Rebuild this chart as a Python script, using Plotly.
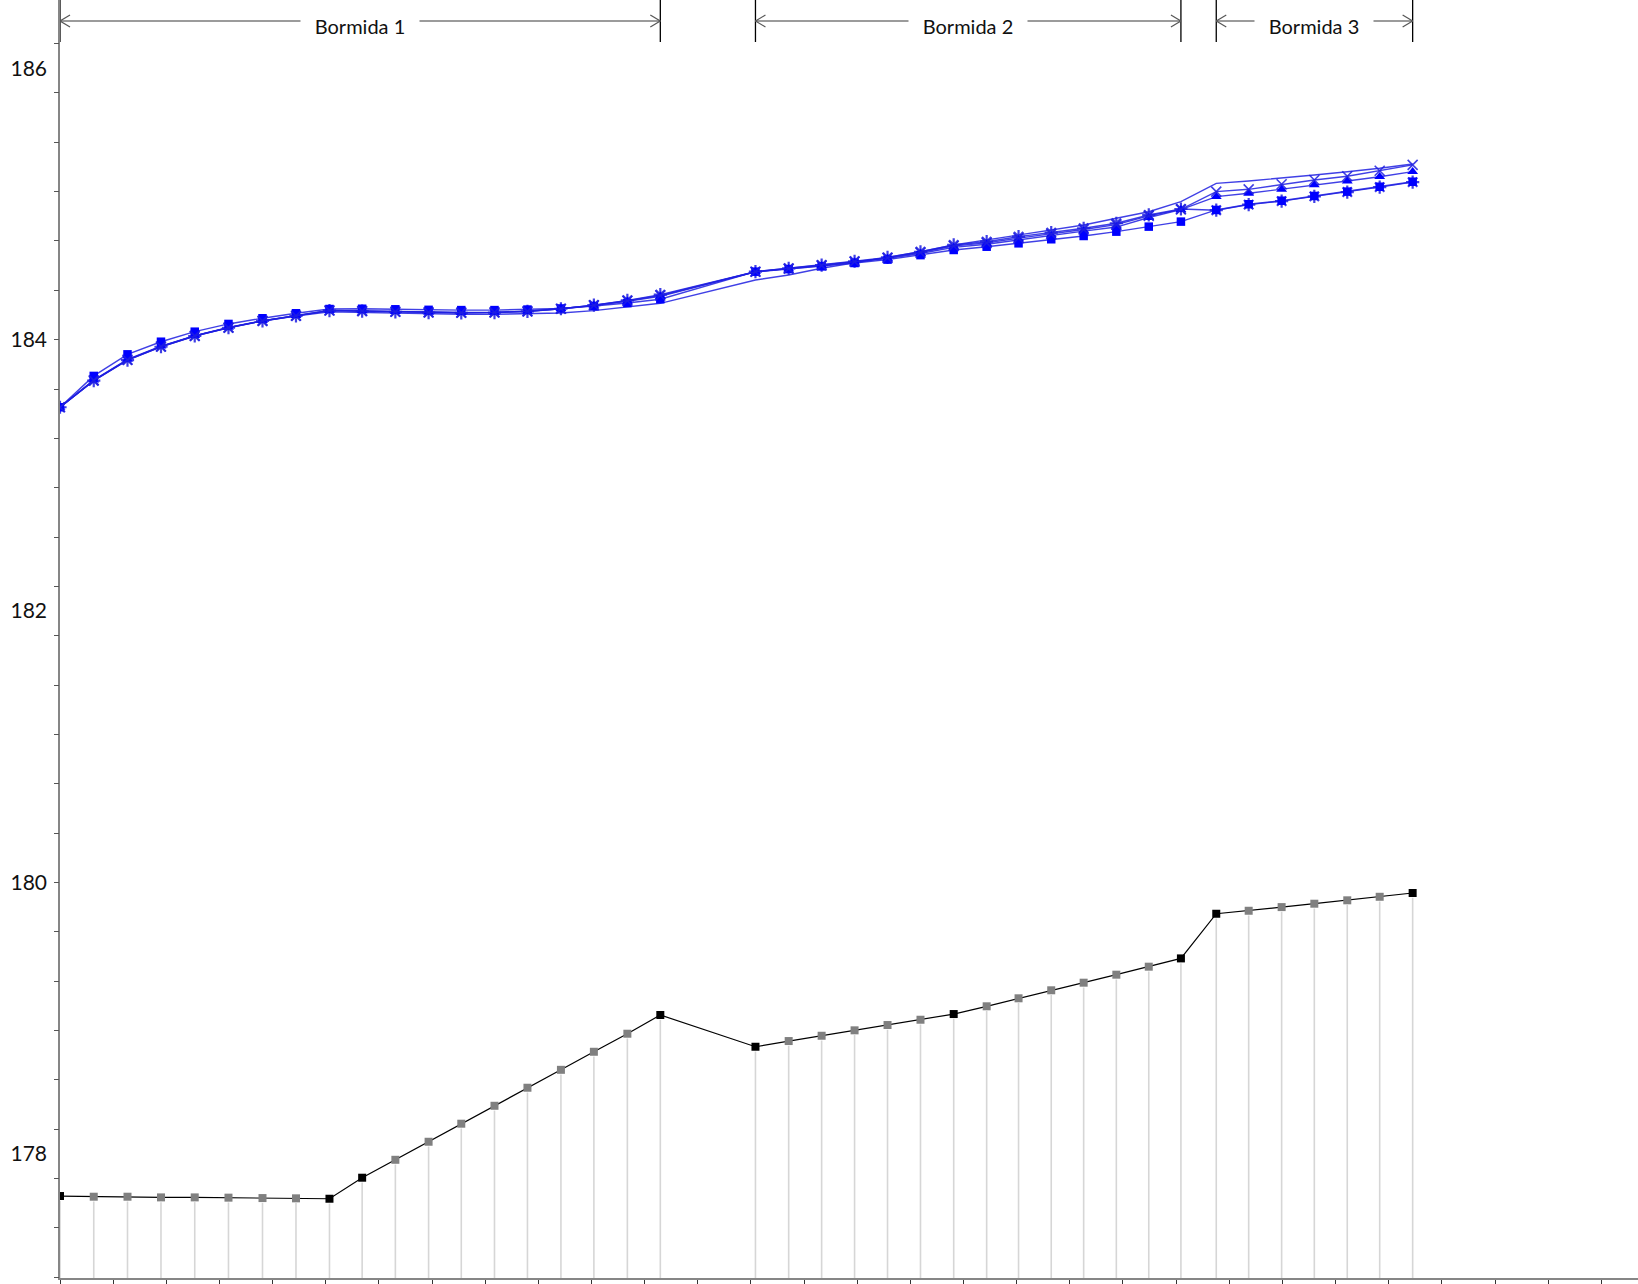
import plotly.graph_objects as go

# ---------------- data ----------------
# distance along the river (m)
dist = [0, 127, 254, 380, 507, 634, 762, 888, 1014, 1137, 1262, 1387, 1510, 1635, 1759, 1885, 2009, 2135, 2259,
        2617, 2742, 2866, 2990, 3114, 3238, 3363, 3487, 3607, 3730, 3852, 3975, 4097, 4218,
        4351, 4473, 4597, 4720, 4844, 4966, 5090]

# bed / thalweg elevation
bed = [177.690, 177.685, 177.685, 177.680, 177.680, 177.678, 177.675, 177.673, 177.670, 177.825,
       177.957, 178.090, 178.223, 178.355, 178.488, 178.620, 178.753, 178.886, 179.024,
       178.790, 178.832, 178.871, 178.911, 178.950, 178.989, 179.031, 179.088, 179.147, 179.206,
       179.262, 179.321, 179.380, 179.441,
       179.770, 179.792, 179.819, 179.844, 179.869, 179.895, 179.923]
# 1 = surveyed section (black marker), 0 = interpolated section (grey marker)
bed_surveyed = [1, 0, 0, 0, 0, 0, 0, 0, 1, 1, 0, 0, 0, 0, 0, 0, 0, 0, 1,
                1, 0, 0, 0, 0, 0, 1, 0, 0, 0, 0, 0, 0, 1,
                1, 0, 0, 0, 0, 0, 1]

# water surface profiles
wse_square = [183.502, 183.733, 183.892, 183.985, 184.059, 184.116, 184.158, 184.195, 184.226, 184.228,
              184.224, 184.220, 184.218, 184.218, 184.222, 184.230, 184.248, 184.270, 184.298,
              184.501, 184.520, 184.540, 184.565, 184.590, 184.623, 184.661, 184.685, 184.710, 184.740,
              184.764, 184.796, 184.833, 184.870,
              184.956, 184.998, 185.024, 185.059, 185.091, 185.127, 185.164]
wse_triangle = [183.502, 183.702, 183.855, 183.952, 184.030, 184.090, 184.140, 184.178, 184.216, 184.212,
                184.207, 184.202, 184.200, 184.202, 184.210, 184.228, 184.252, 184.283, 184.320,
                184.501, 184.522, 184.545, 184.572, 184.598, 184.635, 184.680, 184.703, 184.736, 184.765,
                184.800, 184.830, 184.900, 184.958,
                185.054, 185.079, 185.108, 185.140, 185.169, 185.201, 185.238]
wse_cross = [183.502, 183.700, 183.852, 183.950, 184.028, 184.089, 184.139, 184.176, 184.215, 184.211,
             184.206, 184.201, 184.199, 184.201, 184.209, 184.228, 184.254, 184.287, 184.326,
             184.501, 184.524, 184.548, 184.575, 184.603, 184.642, 184.690, 184.713, 184.748, 184.778,
             184.812, 184.848, 184.912, 184.960,
             185.091, 185.108, 185.145, 185.177, 185.204, 185.245, 185.288]
wse_star = [183.502, 183.698, 183.850, 183.948, 184.027, 184.088, 184.138, 184.175, 184.214, 184.210,
            184.205, 184.200, 184.198, 184.200, 184.208, 184.228, 184.255, 184.290, 184.332,
            184.501, 184.526, 184.550, 184.578, 184.606, 184.648, 184.698, 184.722, 184.759, 184.789,
            184.821, 184.858, 184.919, 184.963,
            184.954, 184.995, 185.021, 185.056, 185.088, 185.124, 185.161]
wse_plain = [183.502, 183.698, 183.850, 183.948, 184.027, 184.088, 184.138, 184.175, 184.205, 184.200,
             184.195, 184.190, 184.187, 184.187, 184.190, 184.197, 184.214, 184.239, 184.268,
             184.440, 184.477, 184.526, 184.567, 184.607, 184.648, 184.698, 184.735, 184.771, 184.808,
             184.845, 184.895, 184.943, 185.017,
             185.152, 185.169, 185.189, 185.214, 185.238, 185.263, 185.295]

reach_names = ["Bormida 1", "Bormida 2", "Bormida 3"]
reach_start = [0, 2617, 4351]
reach_end = [2259, 4218, 5090]

y_label_vals = [178, 180, 182, 184, 186]

# ---------------- styling ----------------
Y_MIN, Y_MAX = 177.086, 186.503
X_MIN, X_MAX = 0, 5938
FONT = "Lato, 'Open Sans', sans-serif"
BLUE_LINE = "rgba(30,30,225,0.85)"
BLUE = "#0000FF"
AXIS_COL = "#868686"

fig = go.Figure()

# drop lines from bed points to the x axis
dx, dy = [], []
for x, y in zip(dist, bed):
    dx += [x, x, None]
    dy += [y - 0.035, Y_MIN, None]
fig.add_trace(go.Scatter(x=dx, y=dy, mode="lines",
                         line=dict(color="#d6d6d6", width=1.6),
                         hoverinfo="skip", showlegend=False))

# bed profile
fig.add_trace(go.Scatter(
    x=dist, y=bed, mode="lines+markers",
    line=dict(color="#000000", width=1.2),
    marker=dict(symbol="square", size=8,
                color=["#000000" if s else "#808080" for s in bed_surveyed],
                line=dict(width=0)),
    showlegend=False))

# water surface profiles
fig.add_trace(go.Scatter(x=dist, y=wse_plain, mode="lines",
                         line=dict(color=BLUE_LINE, width=1.4), showlegend=False))
fig.add_trace(go.Scatter(x=dist, y=wse_star, mode="lines+markers",
                         line=dict(color=BLUE_LINE, width=1.4),
                         marker=dict(symbol="asterisk-open", size=11,
                                     line=dict(color=BLUE, width=2.2)),
                         showlegend=False))
fig.add_trace(go.Scatter(x=dist, y=wse_square, mode="lines+markers",
                         line=dict(color=BLUE_LINE, width=1.4),
                         marker=dict(symbol="square", size=8.5, color=BLUE, line=dict(width=0)),
                         showlegend=False))
fig.add_trace(go.Scatter(x=dist, y=wse_triangle, mode="lines+markers",
                         line=dict(color=BLUE_LINE, width=1.4),
                         marker=dict(symbol="triangle-up", size=9.5, color=BLUE, line=dict(width=0)),
                         showlegend=False))
fig.add_trace(go.Scatter(x=dist, y=wse_cross, mode="lines+markers",
                         line=dict(color=BLUE_LINE, width=1.4),
                         marker=dict(symbol="x-thin-open", size=10,
                                     line=dict(color=BLUE, width=1.6)),
                         showlegend=False))

# tick-mark-only overlay axis
fig.add_trace(go.Scatter(x=[None], y=[None], yaxis="y2", showlegend=False, hoverinfo="skip"))

# reach annotations at the top
shapes = []
annotations = []
ARROW_Y = -21
for name, xs, xe in zip(reach_names, reach_start, reach_end):
    for xb in (xs, xe):
        shapes.append(dict(type="line", xref="x", yref="paper", x0=xb, x1=xb,
                           ysizemode="pixel", yanchor=1, y0=2, y1=-42,
                           line=dict(color="#000000", width=1.3)))
    shapes.append(dict(type="line", xref="x", yref="paper", x0=xs, x1=xe,
                       ysizemode="pixel", yanchor=1, y0=ARROW_Y, y1=ARROW_Y,
                       line=dict(color="#7a7a7a", width=1.3)))
    for xb, d in ((xs, 1), (xe, -1)):
        for sgn in (1, -1):
            shapes.append(dict(type="line", xref="x", yref="paper",
                               xsizemode="pixel", xanchor=xb, x0=0, x1=10 * d,
                               ysizemode="pixel", yanchor=1, y0=ARROW_Y, y1=ARROW_Y + 6 * sgn,
                               line=dict(color="#555555", width=1.2)))
    annotations.append(dict(x=(xs + xe) / 2, xref="x", y=1, yref="paper",
                            yanchor="middle", yshift=-26, text=name, showarrow=False,
                            font=dict(family=FONT, size=20, color="#111111"),
                            bgcolor="#ffffff", width=116, height=22))

fig.update_layout(
    width=1638, height=1284,
    margin=dict(l=60, r=0, t=0, b=6),
    paper_bgcolor="white", plot_bgcolor="white",
    font=dict(family=FONT, size=20, color="#111111"),
    shapes=shapes, annotations=annotations,
    xaxis=dict(range=[X_MIN, X_MAX], showgrid=False, zeroline=False,
               showline=True, linecolor=AXIS_COL, linewidth=2,
               ticks="outside", tick0=0, dtick=200, ticklen=7, tickcolor="#333333",
               tickwidth=1, showticklabels=False),
    yaxis=dict(range=[Y_MIN, Y_MAX], showgrid=False, zeroline=False,
               showline=True, linecolor=AXIS_COL, linewidth=1.5,
               tickvals=y_label_vals, ticktext=[str(v) for v in y_label_vals],
               ticks="", ticklabelstandoff=7,
               tickfont=dict(family=FONT, size=21, color="#111111")),
    yaxis2=dict(range=[Y_MIN, Y_MAX], overlaying="y", side="left",
                showgrid=False, zeroline=False, showline=False,
                ticks="outside", tick0=184, dtick=4 / 11, ticklen=5,
                tickcolor="#555555", tickwidth=1, showticklabels=False),
)

fig.write_html("out.html", config={"displayModeBar": False},
               post_script="document.body.style.margin='0px';document.body.style.overflow='hidden';")
